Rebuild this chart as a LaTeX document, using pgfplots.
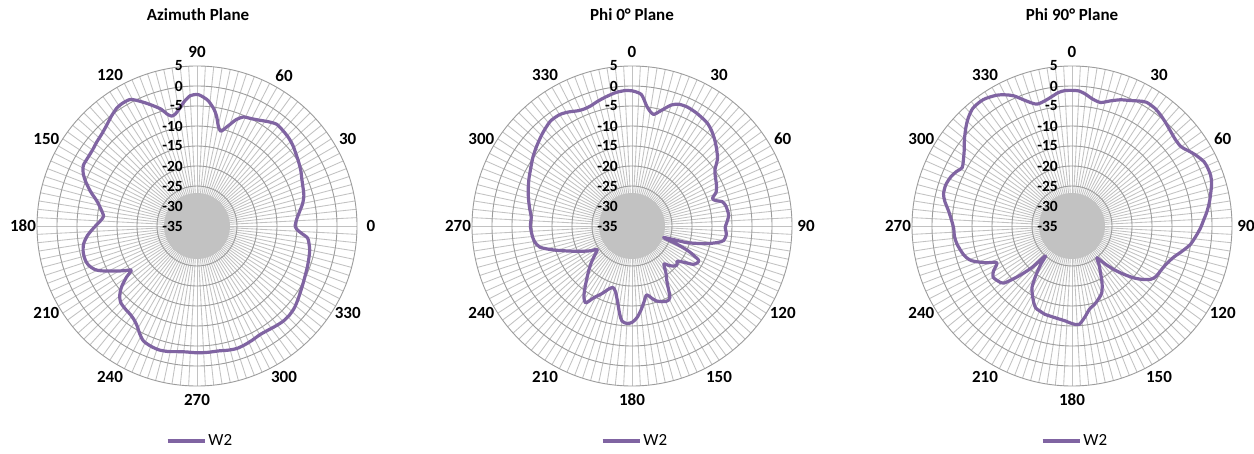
\documentclass[border=0pt]{standalone}
\usepackage{pgfplots}
\pgfplotsset{compat=1.18}
\usepackage{pgfplotstable}
\usepackage{fontspec}
\setmainfont{Carlito}
\definecolor{wline}{HTML}{8064A2}
\definecolor{ringc}{HTML}{9C9C9C}
\definecolor{spokec}{HTML}{C2C2C2}

\pgfplotstableread{
ang db
0 -10.5
4 -10.0
8 -9.1
12 -8.0
16 -7.2
20 -6.8
24 -6.3
28 -5.6
32 -5.0
36 -4.4
40 -3.7
44 -3.2
48 -2.9
52 -2.7
56 -3.5
59 -4.2
63 -4.9
67 -5.4
70 -6.8
72 -8.3
74 -9.6
76 -10.6
78 -9.4
80 -7.0
82 -5.3
85 -3.5
88 -2.5
90 -2.1
93 -2.4
96 -3.8
98 -5.1
101 -6.5
103 -6.8
105 -6.0
107 -4.5
110 -3.0
113 -1.5
116 0.0
118 0.8
121 0.9
124 0.7
128 -0.2
132 -1.2
136 -1.9
140 -2.3
144 -2.7
148 -2.8
152 -2.8
155 -3.6
158 -4.9
162 -7.0
166 -9.2
170 -10.6
174 -11.5
177 -10.8
181 -9.2
185 -7.5
189 -6.3
193 -5.8
197 -5.8
200 -6.2
203 -7.2
205 -8.5
207 -10.2
210 -12.5
212 -14.0
214 -15.2
216 -13.2
219 -10.7
222 -9.0
225 -8.0
229 -7.6
233 -7.3
236 -6.8
239 -5.9
242 -4.5
245 -3.3
249 -2.8
253 -2.6
257 -2.8
261 -3.2
265 -3.4
270 -3.3
275 -3.3
280 -3.3
284 -3.0
288 -2.8
292 -3.0
296 -3.3
300 -3.6
304 -3.5
308 -3.2
312 -2.9
316 -2.9
320 -3.2
324 -3.8
328 -4.4
332 -4.9
336 -5.3
340 -5.6
344 -5.9
348 -6.2
352 -6.8
354 -7.3
356 -8.8
358 -10.0
360 -10.5
}\azdata

\pgfplotstableread{
ang db
0 -1.2
4 -2.0
7 -4.8
9 -6.0
11 -6.6
13 -5.8
15 -4.8
18 -3.2
21 -2.4
25 -2.2
30 -2.5
36 -3.1
40 -4.0
44 -5.2
48 -6.5
52 -7.9
56 -10.0
60 -10.9
64 -11.5
68 -12.3
71 -13.7
73 -13.2
75 -11.6
78 -11.0
81 -10.8
84 -10.7
88 -11.3
91 -11.7
95 -11.3
99 -11.8
101 -13.3
103 -15.5
105 -18.2
107 -21.0
110 -26.6
112 -23.0
114 -19.5
117 -16.4
119 -16.2
122 -16.9
125 -19.2
128 -20.7
131 -20.1
134 -20.6
137 -21.5
140 -22.6
144 -20.6
148 -18.5
152 -14.8
155 -14.3
158 -14.6
162 -15.3
165 -16.4
168 -17.4
171 -15.8
174 -13.8
177 -12.0
180 -10.9
183 -10.6
186 -11.1
188 -12.8
191 -15.9
194 -18.0
197 -18.9
200 -18.3
204 -16.5
208 -14.7
211 -12.6
214 -13.5
217 -15.4
220 -17.3
224 -19.4
228 -21.3
232 -23.2
236 -24.5
239 -23.0
242 -21.6
245 -20.0
249 -17.6
253 -14.5
257 -11.4
261 -10.3
265 -9.9
270 -9.6
275 -9.7
280 -9.0
285 -8.2
290 -7.4
295 -6.6
300 -5.8
305 -4.8
310 -3.9
316 -2.8
322 -1.8
327 -1.8
331 -2.4
335 -3.2
338 -3.4
341 -3.25
345 -2.6
349 -2.0
353 -1.4
357 -1.1
360 -1.2
}\phizero

\pgfplotstableread{
ang db
0 -1.1
3 -1.2
6 -1.9
9 -2.8
13 -3.3
17 -2.3
21 -1.2
25 -0.4
28 0.4
31 1.1
35 1.0
38 0.6
42 -0.1
46 -0.8
50 -1.3
54 -1.3
57 -0.4
60 0.6
64 1.7
67 1.9
70 1.9
73 1.5
76 0.8
80 -0.1
84 -1.1
88 -2.2
91 -2.9
95 -4.0
99 -5.1
103 -6.8
107 -8.4
112 -9.6
117 -10.2
121 -10.5
124 -11.2
127 -12.8
130 -14.8
133 -17.3
136 -19.8
139 -22.5
142 -24.9
145 -23.2
148 -21.7
152 -19.0
156 -16.7
160 -15.6
164 -14.6
168 -13.8
172 -12.0
176 -10.3
180 -10.6
184 -11.2
189 -11.6
193 -11.8
197 -11.9
201 -12.3
204 -12.6
207 -13.8
210 -15.2
213 -16.6
216 -19.5
219 -22.5
221.7 -25.0
224 -20.5
227 -16.5
230 -12.8
233 -12.0
237 -11.5
240 -12.3
244 -14.1
247 -11.5
251 -8.4
255 -7.0
261 -5.9
265 -5.5
269 -5.4
273 -4.8
277 -3.9
281 -2.6
284 -1.9
288 -1.8
292 -2.3
295 -3.0
298 -3.9
301 -3.3
305 -2.1
309 -0.4
313 1.25
316 2.4
320 3.5
325 3.6
330 2.75
333 1.8
336 0.6
340 -1.75
344 -3.3
349 -2.75
354 -1.5
357 -1.1
360 -1.1
}\phininety

\newcommand{\polargrid}[1]{%
  \begin{scope}[shift={(#1pt,227pt)}]
    \foreach \a in {0,3,...,357} \draw[spokec, line width=0.85pt] (0,0) -- (\a:160pt);
    \fill[spokec] (0,0) circle (33pt);
    \foreach \r in {40,60,...,160} \draw[ringc, line width=0.9pt] (0,0) circle (\r pt);
  \end{scope}}
\newcommand{\radlabels}[1]{%
  \begin{scope}[shift={(#1pt,227pt)}]
    \foreach \v [count=\i from 0] in {-35,-30,...,5}
      \node[anchor=east, inner sep=0pt, font=\bfseries\fontsize{15.5}{17}\selectfont] at (-14pt,{\i*20pt}) {\v};
  \end{scope}}

\tikzset{lab/.style={font=\bfseries\fontsize{17}{19}\selectfont, inner sep=0pt}}

\begin{document}
\begin{tikzpicture}
\useasboundingbox (0,0) rectangle (1254pt,453pt);
\fill[white] (0,0) rectangle (1254pt,453pt);

% grids
\polargrid{197}
\polargrid{632}
\polargrid{1072}

% angle labels
\begin{scope}[shift={(197pt,227pt)}]
  \foreach \v in {0,30,...,330} \node[lab] at (\v:174pt) {\v};
\end{scope}
\begin{scope}[shift={(632pt,227pt)}]
  \foreach \v in {0,30,...,330} \node[lab] at ({90-\v}:174pt) {\v};
\end{scope}
\begin{scope}[shift={(1072pt,227pt)}]
  \foreach \v in {0,30,...,330} \node[lab] at ({90-\v}:174pt) {\v};
\end{scope}

% titles
\node[lab] at (198pt,438pt) {Azimuth Plane};
\node[lab] at (632pt,438pt) {Phi 0° Plane};
\node[lab] at (1072pt,438pt) {Phi 90° Plane};

\pgfplotsset{
  polarstyle/.style={
    anchor=center, x=4pt, y=4pt,
    xmin=-50, xmax=50, ymin=-50, ymax=50,
    hide axis, clip=false,
    legend style={at={(0.5075,-0.0375)}, anchor=center, draw=none, fill=none,
      font=\fontsize{17}{19}\selectfont, inner sep=0pt},
    legend image code/.code={\draw[##1, line width=3.5pt] (0pt,0pt) -- (37pt,0pt);},
  },
  wstyle/.style={wline, line width=3.2pt, smooth, tension=0.45, line join=round, mark=none}
}

\begin{axis}[polarstyle, at={(197pt,227pt)}]
\addplot[wstyle] table[x expr={(\thisrow{db}+35)*cos(\thisrow{ang})}, y expr={(\thisrow{db}+35)*sin(\thisrow{ang})}] {\azdata};
\addlegendentry{W2}
\end{axis}

\begin{axis}[polarstyle, at={(632pt,227pt)}]
\addplot[wstyle] table[x expr={(\thisrow{db}+35)*sin(\thisrow{ang})}, y expr={(\thisrow{db}+35)*cos(\thisrow{ang})}] {\phizero};
\addlegendentry{W2}
\end{axis}

\begin{axis}[polarstyle, at={(1072pt,227pt)}]
\addplot[wstyle] table[x expr={(\thisrow{db}+35)*sin(\thisrow{ang})}, y expr={(\thisrow{db}+35)*cos(\thisrow{ang})}] {\phininety};
\addlegendentry{W2}
\end{axis}

% radial labels on top
\radlabels{197}
\radlabels{632}
\radlabels{1072}
\end{tikzpicture}
\end{document}
